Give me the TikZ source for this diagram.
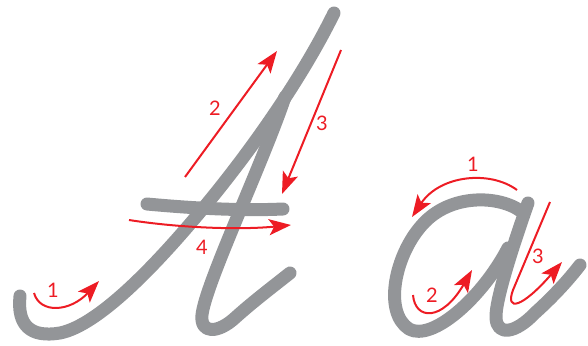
\documentclass[tikz,border=0pt]{standalone}
\usepackage{fontspec}
\setmainfont{Lato}
\usetikzlibrary{arrows.meta}
\definecolor{strokegray}{HTML}{939598}
\definecolor{arrowred}{HTML}{ED1C24}
\tikzset{
  letterstroke/.style={draw=strokegray, line width=13pt, line cap=round, line join=round},
  guide/.style={draw=arrowred, line width=2pt, -{Stealth[length=22pt,width=16pt,inset=5pt]}},
  numlabel/.style={text=arrowred, font=\fontsize{20}{20}\selectfont, inner sep=0pt}
}
\begin{document}
\begin{tikzpicture}[x=1pt,y=-1pt]
\useasboundingbox (0,0) rectangle (588,345);
% ---- capital A ----
\path[letterstroke] (20,296) .. controls (17,325) and (30,338) .. (60,333)
   .. controls (100,325) and (161,260) .. (210,200)
   .. controls (259,140) and (305,72) .. (334,13);
\path[letterstroke] (285,97) .. controls (262,165) and (205,285) .. (202,315)
   .. controls (200,334) and (218,334) .. (236,317)
   .. controls (255,300) and (275,285) .. (290,273);
\path[letterstroke] (147,204) .. controls (190,208) and (240,211) .. (283,209);
% arrows for A
\path[guide] (34,293) .. controls (40,314) and (70,312) .. (99,281);
\path[guide] (185,177) -- (277,51);
\path[guide] (341,50) -- (282,194);
\path[guide] (129,220) .. controls (180,228) and (240,230) .. (291,225);
\node[numlabel] (a1) at (53,290) {1};
\node[numlabel] (a2) at (215,108) {2};
\node[numlabel] (a3) at (322,123) {3};
\node[numlabel] (a4) at (202,247) {4};
% ---- small a ----
\path[letterstroke] (522,212) .. controls (500,195) and (450,193) .. (422,225)
   .. controls (395,255) and (383,312) .. (409,329)
   .. controls (432,342) and (482,298) .. (508,248);
\path[letterstroke] (528,203) .. controls (515,240) and (495,300) .. (496,318)
   .. controls (497,336) and (515,334) .. (535,313)
   .. controls (555,295) and (570,278) .. (580,265);
% arrows for a
\path[guide] (517,190) .. controls (490,170) and (440,175) .. (412,217);
\path[guide] (413,295) .. controls (415,320) and (442,322) .. (472,270);
\path[guide] (550,202) -- (513,290) .. controls (505,312) and (522,308) .. (562,262);
\node[numlabel] (b1) at (473,164) {1};
\node[numlabel] (b2) at (432,295) {2};
\node[numlabel] (b3) at (538,256) {3};
\end{tikzpicture}
\end{document}
